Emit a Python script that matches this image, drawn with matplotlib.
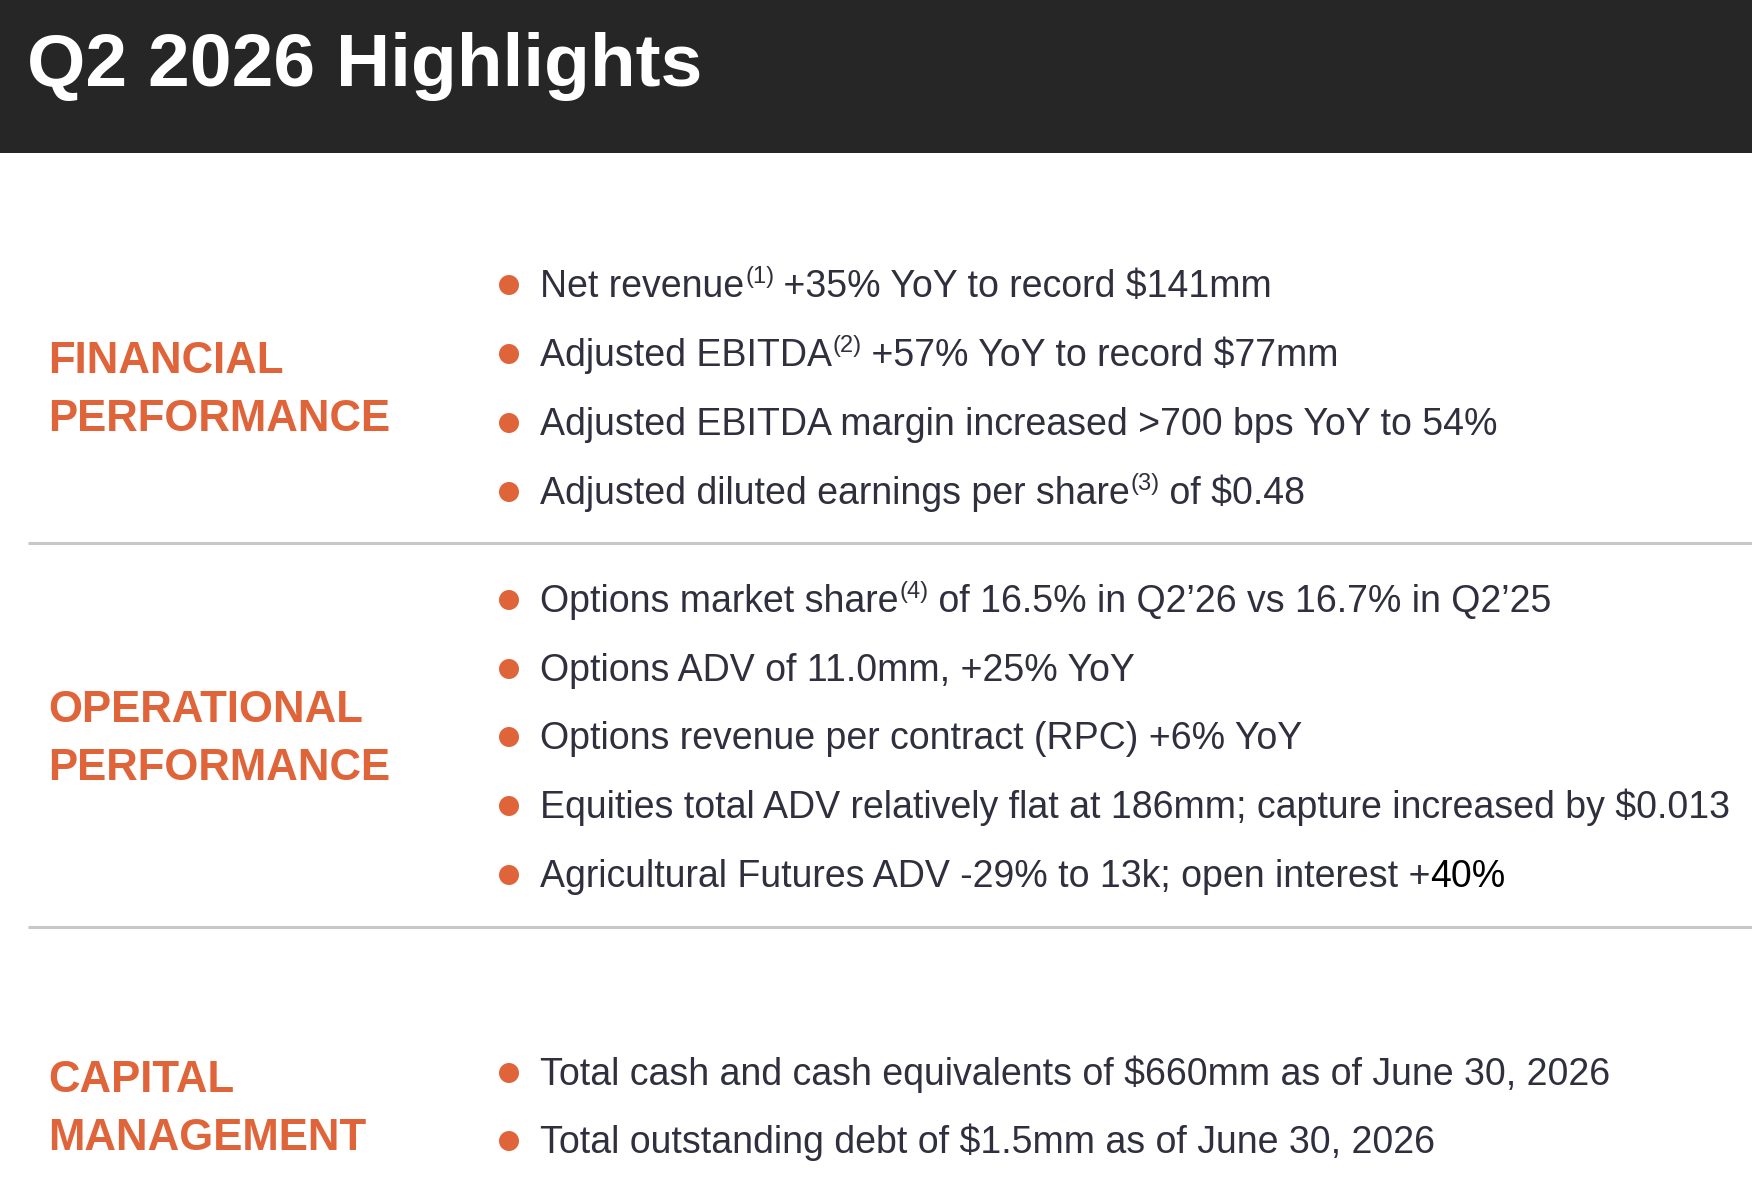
import matplotlib
matplotlib.use("Agg")
import matplotlib.pyplot as plt
from matplotlib.patches import Rectangle, Circle

# ---------------- content ----------------
title = "Q2 2026 Highlights"

section_labels = [
    ["FINANCIAL", "PERFORMANCE"],
    ["OPERATIONAL", "PERFORMANCE"],
    ["CAPITAL", "MANAGEMENT"],
]

# each bullet: list of (text, kind) with kind: n = normal, s = superscript, k = black
financial_bullets = [
    [("Net revenue", "n"), ("(1)", "s"), (" +35% YoY to record $141mm", "n")],
    [("Adjusted EBITDA", "n"), ("(2)", "s"), (" +57% YoY to record $77mm", "n")],
    [("Adjusted EBITDA margin increased >700 bps YoY to 54%", "n")],
    [("Adjusted diluted earnings per share", "n"), ("(3)", "s"), (" of $0.48", "n")],
]
operational_bullets = [
    [("Options market share", "n"), ("(4)", "s"), (" of 16.5% in Q2\u201926 vs 16.7% in Q2\u201925", "n")],
    [("Options ADV of 11.0mm, +25% YoY", "n")],
    [("Options revenue per contract (RPC) +6% YoY", "n")],
    [("Equities total ADV relatively flat at 186mm; capture increased by $0.013", "n")],
    [("Agricultural Futures ADV -29% to 13k; open interest +", "n"), ("40%", "k")],
]
capital_bullets = [
    [("Total cash and cash equivalents of $660mm as of June 30, 2026", "n")],
    [("Total outstanding debt of $1.5mm as of June 30, 2026", "n")],
]
sections_bullets = [financial_bullets, operational_bullets, capital_bullets]

# ---------------- layout ----------------
W, H = 1752, 1184
HEADER_H = 153
label_baselines = [[373, 431], [722, 780], [1092, 1150]]
bullet_centers = [[285, 354, 423, 492], [600, 669, 737, 806, 875], [1073, 1141]]
divider_ys = [543, 927]

ORANGE = "#E0643A"
TEXT = "#2F2F3E"
HEADER = "#262626"
DIVIDER = "#C8C8C8"
FONT = "Liberation Sans"

fig = plt.figure(figsize=(W / 100, H / 100), dpi=100)
fig.patch.set_facecolor("white")
ax = fig.add_axes([0, 0, 1, 1])
ax.set_xlim(0, W)
ax.set_ylim(H, 0)
ax.axis("off")

ax.add_patch(Rectangle((0, 0), W, HEADER_H, facecolor=HEADER, edgecolor="none"))
ax.text(27, 86, title, color="white", fontsize=54, fontweight="bold",
        family=FONT, va="baseline", ha="left")

for y in divider_ys:
    ax.plot([28, W], [y, y], color=DIVIDER, lw=2.2, solid_capstyle="butt")

for lines, ys in zip(section_labels, label_baselines):
    for txt, y in zip(lines, ys):
        ax.text(48, y, txt, color=ORANGE, fontsize=31.5, fontweight="bold",
                family=FONT, va="baseline", ha="left")

fig.canvas.draw()
renderer = fig.canvas.get_renderer()

BODY_SIZE = 27
SUP_SIZE = 17
for bullets, centers in zip(sections_bullets, bullet_centers):
    for parts, cy in zip(bullets, centers):
        ax.add_patch(Circle((509, cy), 10, facecolor=ORANGE, edgecolor="none"))
        x = 540
        base = cy + 12
        for txt, kind in parts:
            if kind == "s":
                t = ax.text(x + 1, base - 14, txt, color=TEXT, fontsize=SUP_SIZE,
                            family=FONT, va="baseline", ha="left")
            else:
                col = "black" if kind == "k" else TEXT
                t = ax.text(x, base, txt, color=col, fontsize=BODY_SIZE,
                            family=FONT, va="baseline", ha="left")
            bb = t.get_window_extent(renderer)
            x = x + bb.width

fig.savefig("out.png", dpi=100, facecolor="white")
